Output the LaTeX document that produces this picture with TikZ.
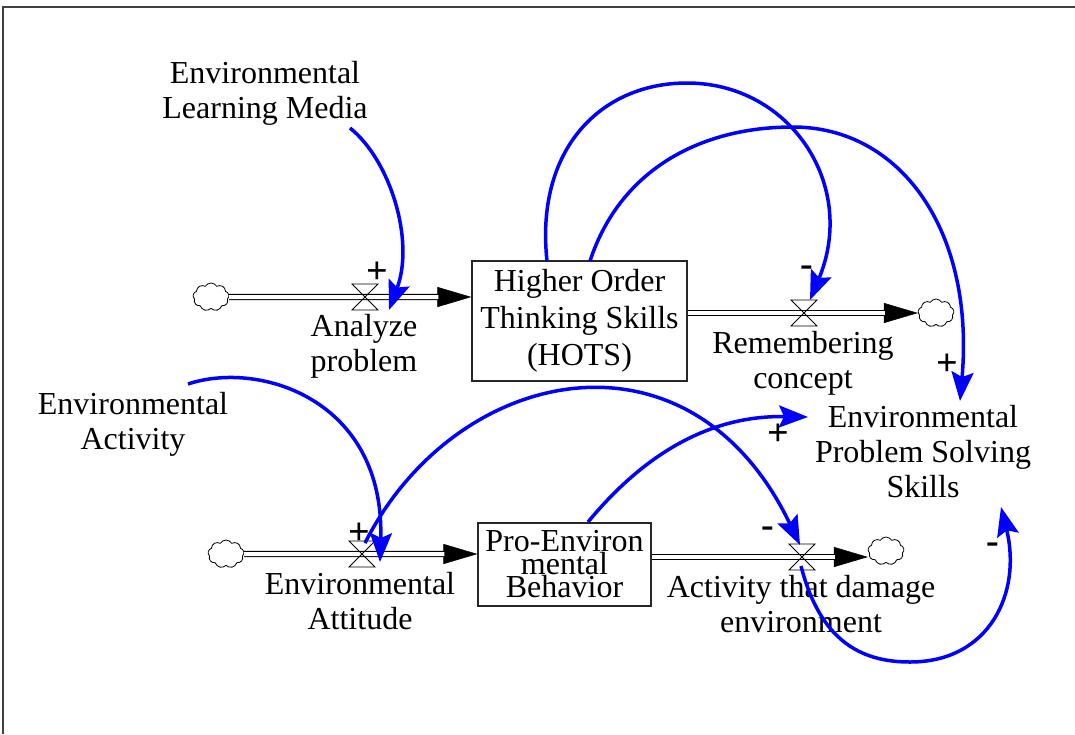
\documentclass[tikz,border=0pt]{standalone}
\usepackage{fontspec}
\setmainfont{Liberation Serif}
\usetikzlibrary{arrows.meta,shapes.symbols}
\newcommand\tightlns{\lineskiplimit=-100pt\relax}
\newcommand\fntA{\fontsize{32}{35}\selectfont\tightlns}
\newcommand\fntB{\fontsize{32}{37}\selectfont\tightlns}
\newcommand\fntC{\fontsize{32}{23}\selectfont\tightlns}
\newcommand\fntS{\fontsize{38}{38}\selectfont\bfseries}
\begin{document}
\begin{tikzpicture}[x=1pt,y=-1pt,
  every node/.style={font=\fntA, align=center, inner sep=0pt},
  stockbox/.style={draw=black!85, line width=1.2pt},
  cloudsym/.style={cloud, draw, cloud puffs=9, cloud puff arc=120, aspect=1.25, minimum width=36pt, minimum height=28pt, inner sep=0pt, line width=0.8pt},
  pipe/.style={draw=black, line width=1.2pt, double=white, double distance=4pt},
  pipetip/.style={draw=black, line width=0.5pt, -{Triangle[length=34pt,width=20pt]}},
  valvesym/.pic={\draw[line width=0.8pt] (-13,-13) -- (13,-13) -- (-13,13) -- (13,13) -- cycle;},
  link/.style={draw=blue, line width=3.5pt, -{Stealth[length=29pt,width=22pt,inset=5pt]}},
  sign/.style={font=\fntS}
]
\useasboundingbox (0,0) rectangle (1075,734);
\draw[line width=1.5pt, black!75] (3,734) -- (3,7) -- (1075,7);

% stocks
\node[stockbox, minimum width=215pt, minimum height=120pt, font=\fntB] (hots) at (579.5,321) {Higher Order\\Thinking Skills\\(HOTS)};
\node[stockbox, minimum width=173pt, minimum height=83pt, font=\fntC] (peb) at (564.5,564.5) {Pro-Environ\\mental\\Behavior};

% clouds
\node[cloudsym] (c1) at (211,297) {};
\node[cloudsym] (c2) at (936,313) {};
\node[cloudsym] (c3) at (226,554) {};
\node[cloudsym] (c4) at (886,551) {};

% valve centres
\coordinate (v1) at (365,297);
\coordinate (v2) at (804,313);
\coordinate (v3) at (362,554);
\coordinate (v4) at (802,557);

% pipe ends
\coordinate (p1e) at (hots.west |- v1);
\coordinate (p2s) at (hots.east |- v2);
\coordinate (p2e) at (c2.west |- v2);
\coordinate (p3e) at (peb.west |- v3);
\coordinate (p4s) at (peb.east |- v4);
\coordinate (p4e) at (c4.west |- v4);

\draw[pipetip] (c1.east) -- (p1e);
\draw[pipe, shorten >=33pt] (c1.east) -- (p1e);
\draw[pipetip] (p2s) -- (p2e);
\draw[pipe, shorten >=33pt] (p2s) -- (p2e);
\draw[pipetip] (c3.east) -- (p3e);
\draw[pipe, shorten >=33pt] (c3.east) -- (p3e);
\draw[pipetip] (p4s) -- (p4e);
\draw[pipe, shorten >=33pt] (p4s) -- (p4e);

\pic at (v1) {valvesym};
\pic at (v2) {valvesym};
\pic at (v3) {valvesym};
\pic at (v4) {valvesym};

% labels
\node (lm) at (265,93) {Environmental\\Learning Media};
\node (ap) at (364,346) {Analyze\\problem};
\node (rc) at (803,363.5) {Remembering\\concept};
\node (ea) at (133,424.5) {Environmental\\Activity};
\node (epss) at (923,452) {Environmental\\Problem Solving\\Skills};
\node (att) at (360,601.5) {Environmental\\Attitude};
\node (atd) at (801,604.5) {Activity that damage\\environment};

% link end points
\coordinate (lmS) at (350,128);
\coordinate (t1) at (389,310);
\coordinate (eaS) at (188,384);
\coordinate (t2) at (380,562);
\coordinate (v3S) at (365,543);
\coordinate (t3) at (800,545);
\coordinate (pebS) at (588,522);
\coordinate (t4) at (808,417);
\coordinate (h1S) at (547,261);
\coordinate (top5) at (687,83);
\coordinate (t5) at (810,300);
\coordinate (h2S) at (590,261);
\coordinate (top6) at (793,127);
\coordinate (t6) at (960,401);
\coordinate (v4S) at (801,566);
\coordinate (bot7) at (910,662);
\coordinate (t7) at (1001,507);

\draw[link] (lmS) .. controls (390,160) and (415,240) .. (t1);
\draw[link] (eaS) .. controls (260,360) and (385,400) .. (t2);
\draw[link] (v3S) .. controls (455,365) and (690,315) .. (t3);
\draw[link] (pebS) .. controls (635,465) and (700,415) .. (t4);
\draw[link] (h1S) .. controls (535,150) and (600,83) .. (top5) .. controls (790,83) and (858,185) .. (t5);
\draw[link] (h2S) .. controls (620,170) and (700,127) .. (top6) .. controls (900,127) and (975,230) .. (t6);
\draw[link] (v4S) .. controls (820,640) and (860,662) .. (bot7) .. controls (990,662) and (1022,592) .. (t7);

% polarity signs
\node[sign] (s1) at (377,273) {+};
\node[sign] (s2) at (807,271) {-};
\node[sign] (s3) at (947,365) {+};
\node[sign] (s4) at (778,435) {+};
\node[sign] (s5) at (359,534) {+};
\node[sign] (s6) at (768,532) {-};
\node[sign] (s7) at (993,548) {-};
\end{tikzpicture}
\end{document}
